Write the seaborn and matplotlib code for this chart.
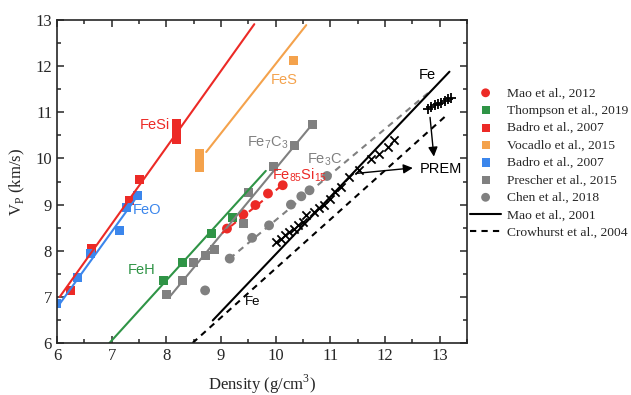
import matplotlib
matplotlib.use('Agg')
import matplotlib.pyplot as plt
import seaborn as sns
from matplotlib.ticker import MultipleLocator

# ---- data (density g/cm3, Vp km/s) ----
# Mao et al., 2012 (Fe85Si15)
mao12_rho = [9.11, 9.41, 9.63, 9.86, 10.13]
mao12_vp = [8.48, 8.79, 8.99, 9.24, 9.42]
mao12_fit_rho = [9.02, 10.15]
mao12_fit_vp = [8.38, 9.45]

# Thompson et al., 2019 (FeH)
thom_rho = [7.95, 8.29, 8.83, 9.22]
thom_vp = [7.36, 7.74, 8.37, 8.71]
thom_fit_rho = [6.96, 9.82]
thom_fit_vp = [6.0, 9.73]

# Badro et al., 2007 (FeSi)
fesi_rho = [6.25, 6.64, 7.32, 7.51, 8.18, 8.18, 8.18, 8.18, 8.18]
fesi_vp = [7.14, 8.05, 9.08, 9.54, 10.42, 10.5, 10.6, 10.68, 10.75]
fesi_fit_rho = [6.05, 9.61]
fesi_fit_vp = [7.0, 12.91]

# Vocadlo et al., 2015 (FeS)
fes_rho = [8.6, 8.6, 8.6, 8.6, 10.33]
fes_vp = [9.8, 9.9, 10.0, 10.1, 12.13]
fes_fit_rho = [8.73, 10.56]
fes_fit_vp = [10.14, 12.89]

# Badro et al., 2007 (FeO)
feo_rho = [6.0, 6.37, 6.61, 7.15, 7.27, 7.47]
feo_vp = [6.85, 7.41, 7.94, 8.44, 8.94, 9.2]
feo_fit_rho = [6.02, 7.42]
feo_fit_vp = [6.8, 9.1]

# Prescher et al., 2015 (Fe7C3)
pres_rho = [8.0, 8.3, 8.49, 8.71, 8.88, 9.42, 9.51, 9.96, 10.35, 10.67]
pres_vp = [7.06, 7.35, 7.74, 7.89, 8.03, 8.6, 9.26, 9.83, 10.28, 10.74]
pres_fit_rho = [8.06, 10.67]
pres_fit_vp = [7.0, 10.74]

# Chen et al., 2018 (Fe3C)
chen_rho = [8.71, 9.16, 9.57, 9.88, 10.28, 10.47, 10.62, 10.94]
chen_vp = [7.14, 7.83, 8.28, 8.55, 9.0, 9.18, 9.31, 9.62]
chen_fit_rho = [9.16, 12.82]
chen_fit_vp = [7.83, 11.45]

# Mao et al., 2001 and Crowhurst et al., 2004 (Fe)
mao01_rho = [8.85, 13.18]
mao01_vp = [6.49, 11.88]
crow_rho = [8.48, 13.13]
crow_vp = [6.0, 10.94]

# Fe measurements (crosses) and PREM
fe_rho = [10.01, 10.1, 10.18, 10.25, 10.33, 10.41, 10.5, 10.55, 10.71, 10.8,
          10.88, 10.99, 11.08, 11.2, 11.35, 11.53, 11.75, 11.9, 12.05, 12.17]
fe_vp = [8.19, 8.26, 8.34, 8.41, 8.48, 8.55, 8.62, 8.77, 8.84, 8.92,
         8.99, 9.13, 9.28, 9.38, 9.6, 9.75, 9.98, 10.1, 10.24, 10.4]
prem_rho = [12.78, 12.85, 12.91, 12.97, 13.03, 13.09, 13.15, 13.2]
prem_vp = [11.08, 11.12, 11.15, 11.18, 11.21, 11.24, 11.28, 11.31]

RED = '#ec2a26'
GREEN = '#2f9446'
ORANGE = '#f4a24c'
BLUE = '#3b86ec'
GRAY = '#808080'

sns.set_style('ticks')
plt.rcParams['font.family'] = ['Liberation Serif', 'DejaVu Serif']
plt.rcParams['mathtext.fontset'] = 'custom'
plt.rcParams['mathtext.rm'] = 'Liberation Serif'
plt.rcParams['mathtext.sf'] = 'Liberation Sans'

fig = plt.figure(figsize=(6.31, 3.95), dpi=100)
ax = fig.add_axes([0.0903, 0.1316, 0.6497, 0.8177])

# fit lines
sns.lineplot(x=fesi_fit_rho, y=fesi_fit_vp, color=RED, lw=1.5, ax=ax)
sns.lineplot(x=feo_fit_rho, y=feo_fit_vp, color=BLUE, lw=1.5, ax=ax)
sns.lineplot(x=fes_fit_rho, y=fes_fit_vp, color=ORANGE, lw=1.5, ax=ax)
sns.lineplot(x=thom_fit_rho, y=thom_fit_vp, color=GREEN, lw=1.5, ax=ax)
sns.lineplot(x=pres_fit_rho, y=pres_fit_vp, color=GRAY, lw=1.5, ax=ax)
sns.lineplot(x=mao12_fit_rho, y=mao12_fit_vp, color=RED, lw=1.5, linestyle=(0, (3, 2.5)), ax=ax)
sns.lineplot(x=chen_fit_rho, y=chen_fit_vp, color=GRAY, lw=1.5, linestyle=(0, (3, 2.5)), ax=ax)

# data points (legend order)
sns.scatterplot(x=mao12_rho, y=mao12_vp, marker='o', color=RED, s=50, edgecolor='none', label='Mao et al., 2012', ax=ax)
sns.scatterplot(x=thom_rho, y=thom_vp, marker='s', color=GREEN, s=42, edgecolor='none', label='Thompson et al., 2019', ax=ax)
sns.scatterplot(x=fesi_rho, y=fesi_vp, marker='s', color=RED, s=42, edgecolor='none', label='Badro et al., 2007', ax=ax)
sns.scatterplot(x=fes_rho, y=fes_vp, marker='s', color=ORANGE, s=42, edgecolor='none', label='Vocadlo et al., 2015', ax=ax)
sns.scatterplot(x=feo_rho, y=feo_vp, marker='s', color=BLUE, s=42, edgecolor='none', label='Badro et al., 2007 ', ax=ax)
sns.scatterplot(x=pres_rho, y=pres_vp, marker='s', color=GRAY, s=42, edgecolor='none', label='Prescher et al., 2015', ax=ax)
sns.scatterplot(x=chen_rho, y=chen_vp, marker='o', color=GRAY, s=50, edgecolor='none', label='Chen et al., 2018', ax=ax)
sns.lineplot(x=mao01_rho, y=mao01_vp, color='black', lw=1.5, label='Mao et al., 2001', ax=ax)
sns.lineplot(x=crow_rho, y=crow_vp, color='black', lw=1.5, linestyle=(0, (3, 2.5)), label='Crowhurst et al., 2004', ax=ax)

sns.scatterplot(x=fe_rho, y=fe_vp, marker='x', color='black', s=35, linewidth=1.3, ax=ax)
sns.scatterplot(x=prem_rho, y=prem_vp, marker='+', color='black', s=45, linewidth=1.3, ax=ax)

handles, labels = ax.get_legend_handles_labels()
if ax.get_legend():
    ax.get_legend().remove()
fig.legend(handles, labels, loc='upper left', bbox_to_anchor=(0.745, 0.78),
           frameon=False, fontsize=9.7, handlelength=2.3, handletextpad=0.45,
           labelspacing=0.37, borderpad=0, borderaxespad=0, markerscale=0.9)

# labels on the plot
sans = dict(family=['Liberation Sans', 'DejaVu Sans'], fontsize=10.5)
ax.text(8.06, 10.72, 'FeSi', color=RED, ha='right', va='center', **sans)
ax.text(7.65, 8.88, 'FeO', color=BLUE, ha='center', va='center', **sans)
ax.text(10.15, 11.7, 'FeS', color=ORANGE, ha='center', va='center', **sans)
ax.text(7.55, 7.58, 'FeH', color=GREEN, ha='center', va='center', **sans)
ax.text(9.85, 10.33, r'$\mathsf{Fe_7C_3}$', color=GRAY, ha='center', va='center', **sans)
ax.text(10.9, 9.96, r'$\mathsf{Fe_3C}$', color=GRAY, ha='center', va='center', **sans)
ax.text(9.93, 9.64, r'$\mathsf{Fe_{85}Si_{15}}$', color=RED, ha='left', va='center', **sans)
ax.text(9.58, 6.89, 'Fe', color='black', ha='center', va='center', fontsize=9.5,
        family=['Liberation Sans', 'DejaVu Sans'])
ax.text(12.78, 11.8, 'Fe', color='black', ha='center', va='center', **sans)
ax.text(13.03, 9.78, 'PREM', color='black', ha='center', va='center', **sans)

arrow = dict(arrowstyle='-|>', color='black', lw=1.0, mutation_scale=14)
ax.annotate('', xy=(12.56, 9.8), xytext=(11.42, 9.67), arrowprops=arrow)
ax.annotate('', xy=(12.9, 9.98), xytext=(12.82, 10.95), arrowprops=arrow)

ax.set_xlim(6, 13.5)
ax.set_ylim(6, 13)
ax.xaxis.set_major_locator(MultipleLocator(1))
ax.xaxis.set_minor_locator(MultipleLocator(0.5))
ax.yaxis.set_major_locator(MultipleLocator(1))
ax.yaxis.set_minor_locator(MultipleLocator(0.5))
ax.tick_params(which='both', direction='in', top=True, right=True, labelsize=12, width=1.1)
ax.tick_params(which='major', length=5)
ax.tick_params(which='minor', length=3)
for sp in ax.spines.values():
    sp.set_linewidth(1.2)
    sp.set_visible(True)

ax.set_xlabel(r'Density (g/cm$^3$)', fontsize=12, labelpad=6)
ax.set_ylabel(r'V$_\mathrm{P}$ (km/s)', fontsize=12, labelpad=6)

fig.savefig('out.png', dpi=100)
